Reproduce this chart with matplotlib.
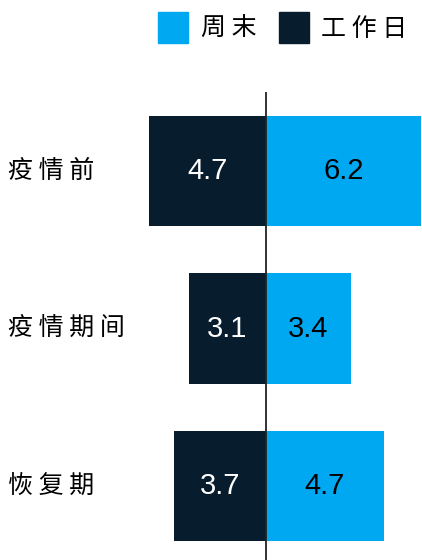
import matplotlib.pyplot as plt
from matplotlib.patches import Patch

plt.rcParams['font.family'] = ['Noto Sans CJK SC', 'DejaVu Sans']

categories = ['疫情前', '疫情期间', '恢复期']
weekend = [6.2, 3.4, 4.7]
workday = [4.7, 3.1, 3.7]
series_names = ['周末', '工作日']

blue = '#00A8F2'
navy = '#071C2D'


def spaced(s):
    # a little air between the characters
    return ' '.join(s)


fig = plt.figure(figsize=(4.22, 5.6), dpi=100)
ax = fig.add_axes([0, 0, 1, 1])

pos = list(range(len(categories)))
ax.barh(pos, weekend, height=0.70, color=blue)
ax.barh(pos, [-v for v in workday], height=0.70, color=navy)

for y, w, d in zip(pos, weekend, workday):
    ax.text(w / 2, y, f'{w:.1f}', ha='center', va='center',
            fontsize=21, color='black', family='Liberation Sans')
    ax.text(-d / 2, y, f'{d:.1f}', ha='center', va='center',
            fontsize=21, color='white', family='Liberation Sans')

# category names along the left edge
for y, name in zip(pos, categories):
    ax.text(0.018, y, spaced(name), transform=ax.get_yaxis_transform(),
            ha='left', va='center', fontsize=18)

ax.set_xlim(-10.64, 6.24)
ax.set_ylim(2.47, -1.086)
ax.vlines(0, -0.5, 2.47, color='#222222', lw=1.3)
ax.axis('off')

handles = [Patch(color=blue), Patch(color=navy)]
fig.legend(handles, [spaced(s) for s in series_names], loc='upper left', ncol=2,
           bbox_to_anchor=(0.375, 0.978), frameon=False, fontsize=18,
           handlelength=1.2, handleheight=1.5, handletextpad=0.5,
           columnspacing=0.9, borderaxespad=0, borderpad=0)

fig.savefig('out.png', dpi=100)
